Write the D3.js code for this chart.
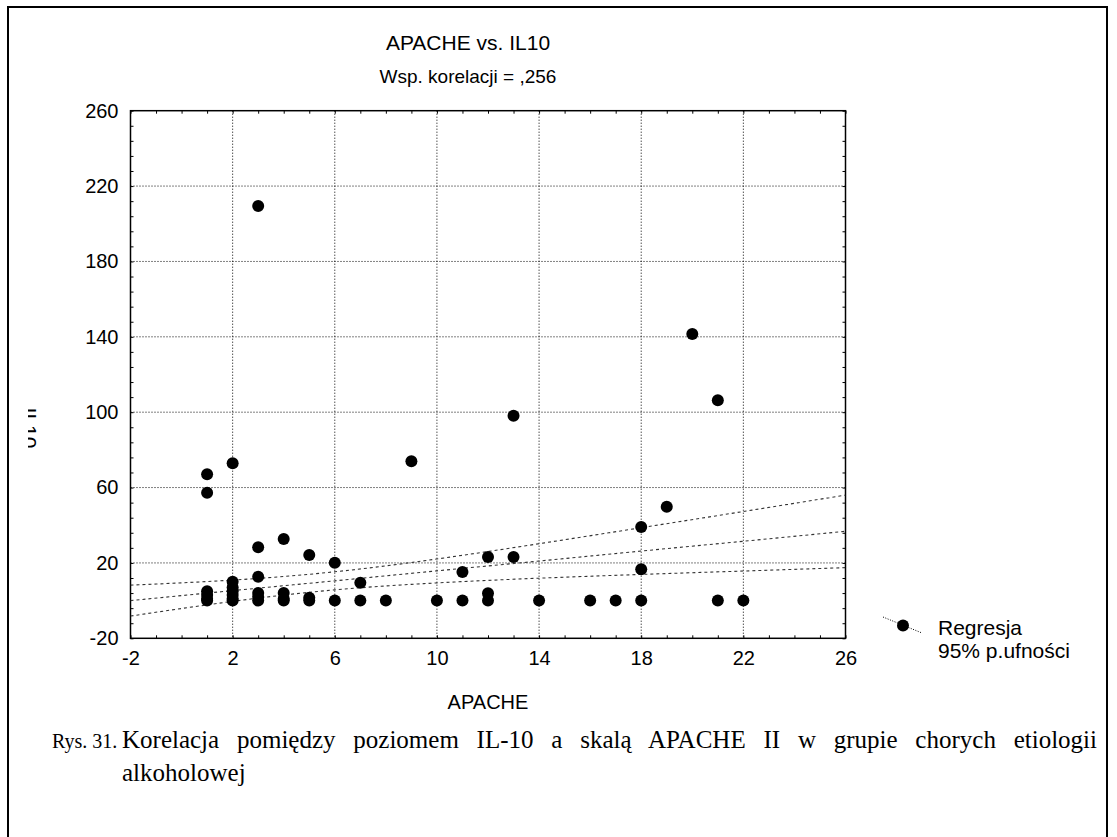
<!DOCTYPE html>
<html>
<head>
<meta charset="utf-8">
<script src="https://cdn.jsdelivr.net/npm/d3@7"></script>
<style>
  body { margin: 0; background: #fff; }
  svg { display: block; }
  text { font-family: "Liberation Sans", Arial, sans-serif; fill: #000; }
</style>
</head>
<body>
<div id="chart"></div>
<script>
// data
const apache = [1, 1, 1, 1, 1, 1,
  2, 2, 2, 2, 2, 2, 2,
  3, 3, 3, 3, 3, 3,
  4, 4, 4, 4,
  5, 5, 5,
  6, 6, 7, 7, 8, 9, 10, 11, 11,
  12, 12, 12, 13, 13, 14, 16, 17,
  18, 18, 18, 19, 20, 21, 21, 22];
const il10 = [67, 57.3, 5, 3, 1, 0,
  72.9, 10, 7, 5, 3, 1, 0,
  209.4, 28.3, 12.7, 4, 2, 0,
  32.7, 4, 1, 0,
  24.2, 1.5, 0,
  20.1, 0, 9.5, 0, 0, 73.9, 0, 15.2, 0,
  23.1, 3.9, 0, 98.1, 23.1, 0, 0, 0,
  39.1, 16.6, 0, 49.8, 141.5, 106.3, 0, 0];

// regression line and 95% band, read at the grid positions
const bandX  = [-2, 2, 6, 10, 14, 18, 22, 26];
const fitY   = [0, 5.3, 10.5, 15.8, 21.0, 26.3, 31.5, 36.8];
const upperY = [8.2, 10.9, 15.3, 22.1, 30.2, 38.7, 47.3, 56.0];
const lowerY = [-8.2, -0.4, 5.7, 9.4, 11.9, 13.9, 15.7, 17.5];

const xTicks = [-2, 2, 6, 10, 14, 18, 22, 26];
const yTicks = [-20, 20, 60, 100, 140, 180, 220, 260];

const W = 1117, H = 837;
const pL = 130.5, pT = 110.7, pR = 845.5, pB = 638.3;

const svg = d3.select("#chart").append("svg")
  .attr("width", W).attr("height", H);

// outer frame
svg.append("rect")
  .attr("x", 8).attr("y", 7).attr("width", 1099).attr("height", 850)
  .attr("fill", "none").attr("stroke", "#000").attr("stroke-width", 2);

const x = d3.scaleLinear().domain([-2, 26]).range([pL, pR]);
const y = d3.scaleLinear().domain([-20, 260]).range([pB, pT]);

// grid
const grid = svg.append("g");
grid.selectAll("line.gx").data(xTicks.slice(1, -1)).enter().append("line")
  .attr("x1", d => x(d)).attr("x2", d => x(d))
  .attr("y1", pT).attr("y2", pB)
  .attr("stroke", "#000").attr("stroke-width", 1).attr("stroke-dasharray", "1,2");
grid.selectAll("line.gy").data(yTicks.slice(1, -1)).enter().append("line")
  .attr("x1", pL).attr("x2", pR)
  .attr("y1", d => y(d)).attr("y2", d => y(d))
  .attr("stroke", "#000").attr("stroke-width", 1).attr("stroke-dasharray", "1,2");

// minor ticks pointing into the frame
const minorX = d3.range(-2, 27, 1);
const minorY = d3.range(-20, 261, 8);
const tickStyle = g => {
  g.select(".domain").remove();
  g.selectAll("line").attr("stroke", "#000");
};
svg.append("g").attr("transform", `translate(0,${pB})`)
  .call(d3.axisBottom(x).tickValues(minorX).tickSize(-3).tickFormat(""))
  .call(tickStyle);
svg.append("g").attr("transform", `translate(0,${pT})`)
  .call(d3.axisTop(x).tickValues(minorX).tickSize(-3).tickFormat(""))
  .call(tickStyle);
svg.append("g").attr("transform", `translate(${pL},0)`)
  .call(d3.axisLeft(y).tickValues(minorY).tickSize(-3).tickFormat(""))
  .call(tickStyle);
svg.append("g").attr("transform", `translate(${pR},0)`)
  .call(d3.axisRight(y).tickValues(minorY).tickSize(-3).tickFormat(""))
  .call(tickStyle);

// tick labels (plain hyphen for negatives, as in the original)
const xAxis = svg.append("g").attr("transform", `translate(0,${pB})`)
  .call(d3.axisBottom(x).tickValues(xTicks).tickSize(0).tickPadding(13).tickFormat(d => String(d)));
xAxis.select(".domain").remove();
xAxis.selectAll("text").attr("font-size", 20).attr("font-family", "Liberation Sans, Arial");

const yAxis = svg.append("g").attr("transform", `translate(${pL},0)`)
  .call(d3.axisLeft(y).tickValues(yTicks).tickSize(0).tickPadding(12).tickFormat(d => String(d)));
yAxis.select(".domain").remove();
yAxis.selectAll("text").attr("font-size", 20).attr("font-family", "Liberation Sans, Arial");

// plot frame
svg.append("rect")
  .attr("x", pL).attr("y", pT).attr("width", pR - pL).attr("height", pB - pT)
  .attr("fill", "none").attr("stroke", "#000").attr("stroke-width", 1.5);

// regression + confidence band
const band = bandX.map((d, i) => ({x: d, fit: fitY[i], up: upperY[i], lo: lowerY[i]}));
svg.append("clipPath").attr("id", "plotclip")
  .append("rect").attr("x", pL).attr("y", pT).attr("width", pR - pL).attr("height", pB - pT);
const lines = svg.append("g").attr("clip-path", "url(#plotclip)");
const mk = key => d3.line().x(d => x(d.x)).y(d => y(d[key])).curve(d3.curveNatural);
["up", "fit", "lo"].forEach(k => {
  lines.append("path").datum(band).attr("d", mk(k))
    .attr("fill", "none").attr("stroke", "#333").attr("stroke-width", 1.1)
    .attr("stroke-dasharray", "3,3");
});

// points
svg.append("g").selectAll("circle")
  .data(apache.map((d, i) => [d, il10[i]])).enter().append("circle")
  .attr("cx", d => x(d[0])).attr("cy", d => y(d[1])).attr("r", 6)
  .attr("fill", "#000");

// titles
svg.append("text").attr("x", 468).attr("y", 50).attr("text-anchor", "middle")
  .attr("font-size", 21).text("APACHE vs. IL10");
svg.append("text").attr("x", 468).attr("y", 83).attr("text-anchor", "middle")
  .attr("font-size", 19).text("Wsp. korelacji = ,256");
svg.append("text").attr("x", (pL + pR) / 2).attr("y", 709).attr("text-anchor", "middle")
  .attr("font-size", 20).text("APACHE");

// y label, partly cut off as in the original
svg.append("clipPath").attr("id", "ylabclip")
  .append("rect").attr("x", 28).attr("y", 300).attr("width", 40).attr("height", 250);
svg.append("g").attr("clip-path", "url(#ylabclip)")
  .append("text").attr("transform", "translate(22,428) rotate(90)")
  .attr("text-anchor", "middle").attr("font-size", 21).text("IL10");

// legend
const lg = svg.append("g");
lg.append("line").attr("x1", 883).attr("y1", 617).attr("x2", 922).attr("y2", 633)
  .attr("stroke", "#000").attr("stroke-width", 1).attr("stroke-dasharray", "1,1.5");
lg.append("circle").attr("cx", 903).attr("cy", 625.5).attr("r", 6).attr("fill", "#000");
lg.append("text").attr("x", 938).attr("y", 635).attr("font-size", 21).text("Regresja");
lg.append("text").attr("x", 938).attr("y", 658).attr("font-size", 21).text("95% p.ufności");

// caption (first line justified to the right margin)
const serif = "'Liberation Serif', 'Times New Roman', serif";
svg.append("text").attr("x", 52).attr("y", 748).attr("font-size", 20)
  .style("font-family", serif).text("Rys. 31.");
const capLine = "Korelacja pomiędzy poziomem IL-10 a skalą APACHE II w grupie chorych etiologii";
const c1 = svg.append("text").attr("x", 122).attr("y", 748).attr("font-size", 25)
  .style("font-family", serif).text(capLine);
const natural = c1.node().getComputedTextLength();
const gaps = capLine.split(" ").length - 1;
c1.style("word-spacing", Math.max(0, (1097 - 122 - natural) / gaps) + "px");
svg.append("text").attr("x", 122).attr("y", 781).attr("font-size", 25)
  .style("font-family", serif).text("alkoholowej");
</script>
</body>
</html>
